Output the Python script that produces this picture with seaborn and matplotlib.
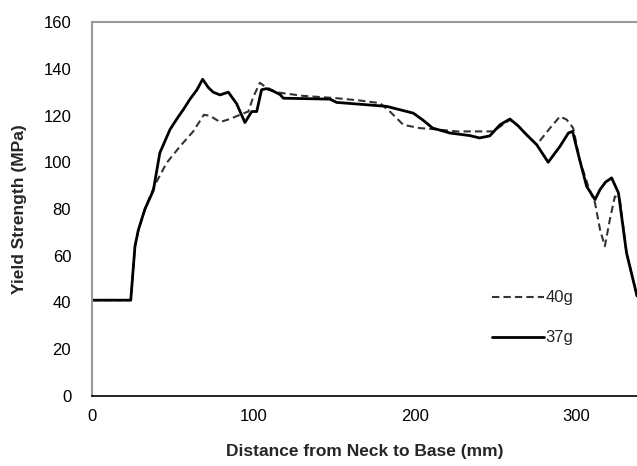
import numpy as np
import pandas as pd
import matplotlib
matplotlib.use("Agg")
import matplotlib.pyplot as plt
import seaborn as sns

# 37g series (solid)
x_37g = [0, 24, 26.6, 28.7, 32.8, 38, 42, 48.3, 53, 57, 60.7, 65, 68.5, 72, 75, 79.3, 84.4,
         89.6, 94.7, 98.9, 102, 105, 108, 112, 116.4, 118.5, 147.4, 151.5, 170, 182.5,
         199, 205, 211, 221.7, 234, 240, 246.4, 252.6, 258.8, 264, 269, 275.4, 282.5,
         289.8, 295, 297.6, 302, 306.3, 311.5, 314.6, 318, 321.8, 326, 331, 337.5]
y_37g = [41, 41, 64, 71, 80, 88, 104, 114, 119, 123, 127, 131, 135.5, 132, 130, 128.8, 130,
         125, 117, 121.7, 121.7, 131, 131.5, 130.5, 129, 127.4, 127, 125.6, 124.6, 123.9,
         121, 118, 114.6, 112.5, 111.4, 110.4, 111.3, 116, 118.5, 115.5, 111.8, 107.5, 100,
         106.8, 112.5, 113.2, 101, 89.7, 84, 88.3, 91.5, 93.3, 86.9, 61.3, 42.8]

# 40g series (dashed)
x_40g = [0, 24, 26.6, 28.7, 32.8, 39, 46.2, 54.5, 62.7, 69.3, 73, 79.3, 85.4, 91.6,
         96.8, 99.9, 104, 107, 114.4, 130.8, 151.5, 166, 178.3, 184.5, 192.8, 203,
         211, 225.8, 248.5, 258.8, 264, 269, 275.4, 283.6, 289.8, 294, 298, 302, 307.3,
         311.5, 314.6, 317.6, 320.7, 323.8, 326.9, 331, 337.5]
y_40g = [41, 41, 64, 71, 80, 90.4, 99.7, 106.8, 113.2, 120.3, 119.9, 117.2, 118.5, 120.3,
         121.7, 128, 134, 132.4, 129.9, 128.4, 127.4, 126.4, 125.3, 121.7, 116, 114.6,
         114.2, 113.2, 113.2, 118.2, 115.5, 112, 107.5, 114.6, 119.6, 118.2, 114.6, 101, 89.7,
         82.6, 71.2, 64.1, 75.5, 85.4, 84, 61.3, 42.8]

series_names = ["40g", "37g"]
x_ticks = [0, 100, 200, 300]
y_ticks = [0, 20, 40, 60, 80, 100, 120, 140, 160]
x_label = "Distance from Neck to Base (mm)"
y_label = "Yield Strength (MPa)"

df = pd.concat([
    pd.DataFrame({"x": x_40g, "y": y_40g, "series": "40g"}),
    pd.DataFrame({"x": x_37g, "y": y_37g, "series": "37g"}),
], ignore_index=True)

sns.set_style("white")
plt.rcParams["font.family"] = ["Liberation Sans", "DejaVu Sans"]

fig = plt.figure(figsize=(6.37, 4.66), dpi=100)
ax = fig.add_axes([92 / 637, (466 - 396) / 466, 1 - 92 / 637, (396 - 22) / 466])

sns.lineplot(data=df, x="x", y="y", hue="series", style="series",
             hue_order=series_names, style_order=series_names,
             palette={"40g": "#333333", "37g": "black"},
             dashes={"40g": (3.5, 2), "37g": ""},
             sort=False, estimator=None, ax=ax, legend=True)
for line in ax.get_lines():
    line.set_solid_joinstyle("round")
    line.set_dash_joinstyle("round")
    if line.get_linestyle() == "-":
        line.set_linewidth(2.0)
    else:
        line.set_linewidth(1.5)

ax.set_xlim(0, 337.5)
ax.set_ylim(0, 160)
ax.set_xticks(x_ticks)
ax.set_yticks(y_ticks)
ax.tick_params(axis="y", length=0, pad=15, labelsize=12, colors="black")
ax.tick_params(axis="x", direction="inout", length=7, width=1, pad=6, labelsize=12,
               colors="black")
ax.set_xlabel(x_label, fontsize=12.5, fontweight="bold", labelpad=14)
ax.set_ylabel(y_label, fontsize=12.5, fontweight="bold", labelpad=12)

for side in ["left", "top"]:
    ax.spines[side].set_color("#999999")
    ax.spines[side].set_linewidth(1.5)
ax.spines["bottom"].set_color("black")
ax.spines["bottom"].set_linewidth(1.2)
ax.spines["right"].set_visible(False)

leg = ax.legend(frameon=False, loc="upper left", bbox_to_anchor=(0.722, 0.30),
                handlelength=3.1, handletextpad=0.1, labelspacing=1.5, fontsize=12,
                borderaxespad=0)
for h in leg.get_lines():
    h.set_linewidth(2.0 if h.get_linestyle() == "-" else 1.5)

fig.savefig("out.png", dpi=100)
